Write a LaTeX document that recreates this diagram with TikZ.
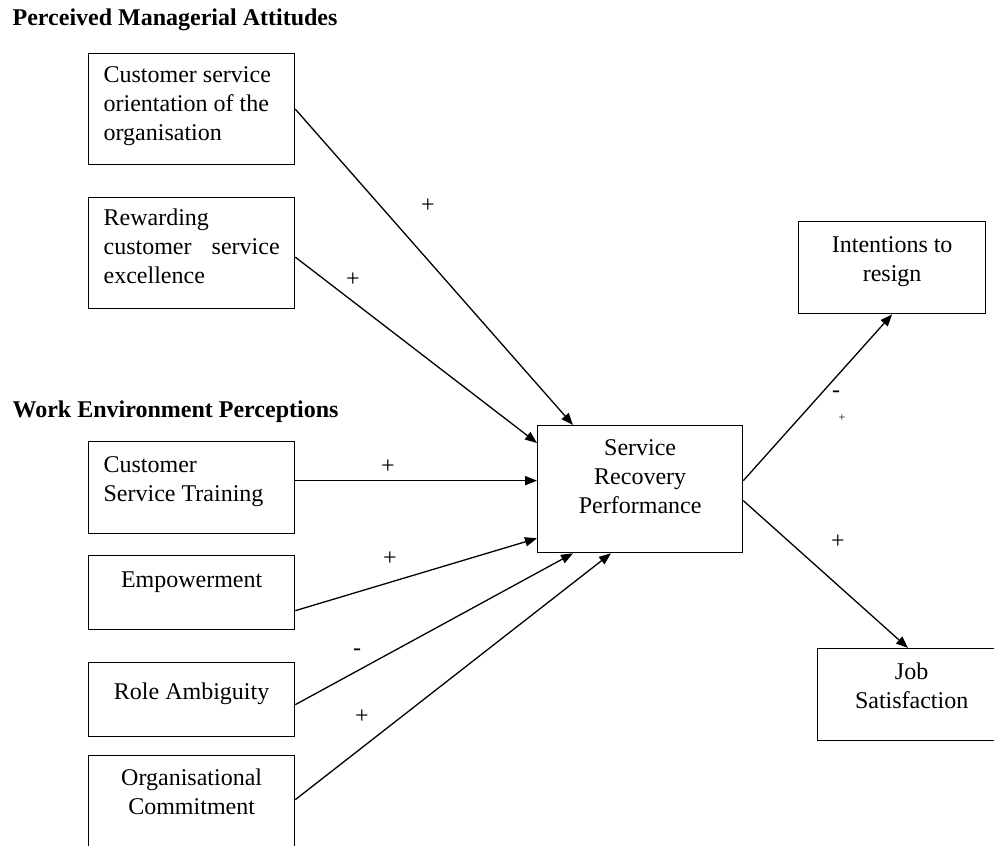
\documentclass[tikz,border=0pt]{standalone}
\usepackage{fontspec}
\setmainfont{Liberation Serif}
\usetikzlibrary{arrows.meta}
\begin{document}
\begin{tikzpicture}[x=0.5pt, y=-0.5pt, line width=0.65pt, >={Triangle[length=6pt,width=4.6pt]},
    varbox/.style={draw, anchor=north west, inner xsep=7.5pt, inner ysep=0pt, text height=15pt,
        font=\fontsize{12}{14.5}\selectfont},
    leftbox/.style={varbox, text width=88pt},
    sign/.style={inner sep=0pt, font=\fontsize{12}{14}\selectfont},
    heading/.style={anchor=west, inner sep=0pt, font=\bfseries\fontsize{12}{14}\selectfont}]
    \useasboundingbox (0,0) rectangle (994,845);
    \clip (0,0) rectangle (994,845);
    \node[heading] (hpma) at (12,20) {Perceived Managerial Attitudes};
    \node[heading] (hwep) at (12,412) {Work Environment Perceptions};
    \node[leftbox, align=flush left, text height=14.5pt, text depth=41pt] (cso) at (88,53) {Customer service\\orientation of the\\organisation};
    \node[leftbox, align=flush left, text height=14pt, text depth=41.5pt] (rcs) at (88,197) {Rewarding\\customer\hfill service\\excellence};
    \node[leftbox, align=flush left, text height=15.5pt, text depth=30.5pt] (cst) at (88,441) {Customer\\Service Training};
    \node[leftbox, align=flush center, text height=16pt, text depth=21pt] (emp) at (88,555) {Empowerment};
    \node[leftbox, align=flush center, text height=18.5pt, text depth=18.5pt] (rol) at (88,662) {Role Ambiguity};
    \node[leftbox, align=flush center, text depth=40pt] (org) at (88,755) {Organisational\\Commitment};
    \node[varbox, text width=87.5pt, align=flush center, text depth=48.5pt] (srp) at (537,425) {Service\\Recovery\\Performance};
    \node[varbox, text width=78.5pt, align=flush center, text height=15.5pt, text depth=30.5pt] (itr) at (798,221) {Intentions to\\resign};
    \node[varbox, text width=79pt, align=flush center, text height=15.5pt, text depth=30.5pt] (job) at (817,648) {Job\\Satisfaction};
    % paths into service recovery
    \draw[->] (cso.east) -- ([xshift=18pt]srp.north west);
    \draw[->] ([yshift=-2pt]rcs.east) -- ([yshift=-9pt]srp.north west);
    \draw[->] ([yshift=3.5pt]cst.east) -- ([yshift=3.5pt]cst.east -| srp.west);
    \draw[->] ([yshift=-9pt]emp.east) -- ([yshift=7.5pt]srp.south west);
    \draw[->] ([yshift=-2.5pt]rol.east) -- ([xshift=18pt]srp.south west);
    \draw[->] ([yshift=5.5pt]org.east) -- ([xshift=37pt]srp.south west);
    % outcomes
    \draw[->] ([yshift=4.25pt]srp.east) -- (itr.south);
    \draw[->] ([yshift=-5.75pt]srp.east) -- ([xshift=45.5pt]job.north west);
    \node[sign] (s1) at (428,206) {+};
    \node[sign] (s2) at (353,280) {+};
    \node[sign] (s3) at (388,467) {+};
    \node[sign] (s4) at (390,559) {+};
    \node[sign] (s5) at (357,652) {-};
    \node[sign] (s6) at (362,717) {+};
    \node[sign] (s7) at (836,394) {-};
    \node[sign, font=\fontsize{6}{7}\selectfont] (s8) at (842,418) {+};
    \node[sign] (s9) at (838,542) {+};
\end{tikzpicture}
\end{document}
